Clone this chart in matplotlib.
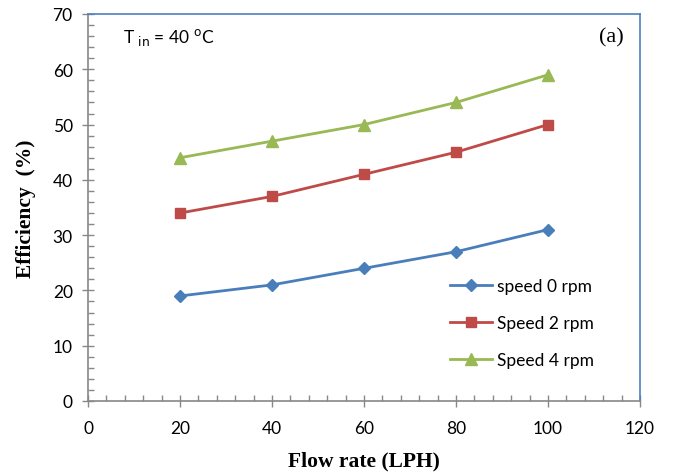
import matplotlib
matplotlib.use("Agg")
import matplotlib.pyplot as plt
from matplotlib.ticker import MultipleLocator

flow_rate = [20, 40, 60, 80, 100]
eff_speed0 = [19, 21, 24, 27, 31]
eff_speed2 = [34, 37, 41, 45, 50]
eff_speed4 = [44, 47, 50, 54, 59]
series_labels = ["speed 0 rpm", "Speed 2 rpm", "Speed 4 rpm"]

sans = ["Lato", "DejaVu Sans"]
serif = ["Liberation Serif", "DejaVu Serif"]

W, H = 674, 477
fig = plt.figure(figsize=(W / 100, H / 100), dpi=100)
ax = fig.add_axes([88 / W, 1 - 402 / H, (640 - 88) / W, (402 - 15) / H])

styles = [("#4A7EBB", "D", 6), ("#BE4B48", "s", 6.5), ("#98B954", "^", 8)]
handles = []
for ys, lab, (c, m, ms) in zip([eff_speed0, eff_speed2, eff_speed4], series_labels, styles):
    h, = ax.plot(flow_rate, ys, color=c, marker=m, markersize=ms, linewidth=2,
                 markeredgecolor=c, label=lab)
    handles.append(h)

ax.set_xlim(0, 120)
ax.set_ylim(0, 70)
ax.xaxis.set_major_locator(MultipleLocator(20))
ax.xaxis.set_minor_locator(MultipleLocator(4))
ax.yaxis.set_major_locator(MultipleLocator(10))
ax.yaxis.set_minor_locator(MultipleLocator(2))
ax.tick_params(which="major", direction="inout", length=8, width=1, color="#888888",
               labelsize=12.5)
ax.tick_params(which="minor", direction="in", length=4, width=1, color="#888888")
for lbl in ax.get_xticklabels() + ax.get_yticklabels():
    lbl.set_family(sans)
ax.tick_params(axis="x", pad=10)
ax.tick_params(axis="y", pad=7)

for s in ("left", "bottom"):
    ax.spines[s].set_color("#888888")
    ax.spines[s].set_linewidth(1.2)
for s in ("top", "right"):
    ax.spines[s].set_color("#4F81BD")
    ax.spines[s].set_linewidth(1.2)

ax.set_xlabel("Flow rate (LPH)", family=serif, fontweight="bold", fontsize=15.5, labelpad=10)
ax.set_ylabel("Efficiency  (%)", family=serif, fontweight="bold", fontsize=15.5, labelpad=12)

fig.text(123 / W, 1 - 38 / H, r"T $_{\mathrm{in}}$ = 40 $^{\mathrm{o}}$C", fontsize=12.5,
         family=sans, va="center", ha="left")

ax.legend(handles=handles, loc="upper left",
          bbox_to_anchor=((443 - 88) / 552, 1 - (272 - 15) / 387),
          frameon=False, prop={"family": sans, "size": 12.5}, labelspacing=1.2,
          handlelength=2.4, handletextpad=0.3, borderaxespad=0)

fig.text(611 / W, 1 - 38 / H, "(a)", family=serif, fontsize=16, ha="center", va="center")

fig.savefig("out.png", dpi=100)
